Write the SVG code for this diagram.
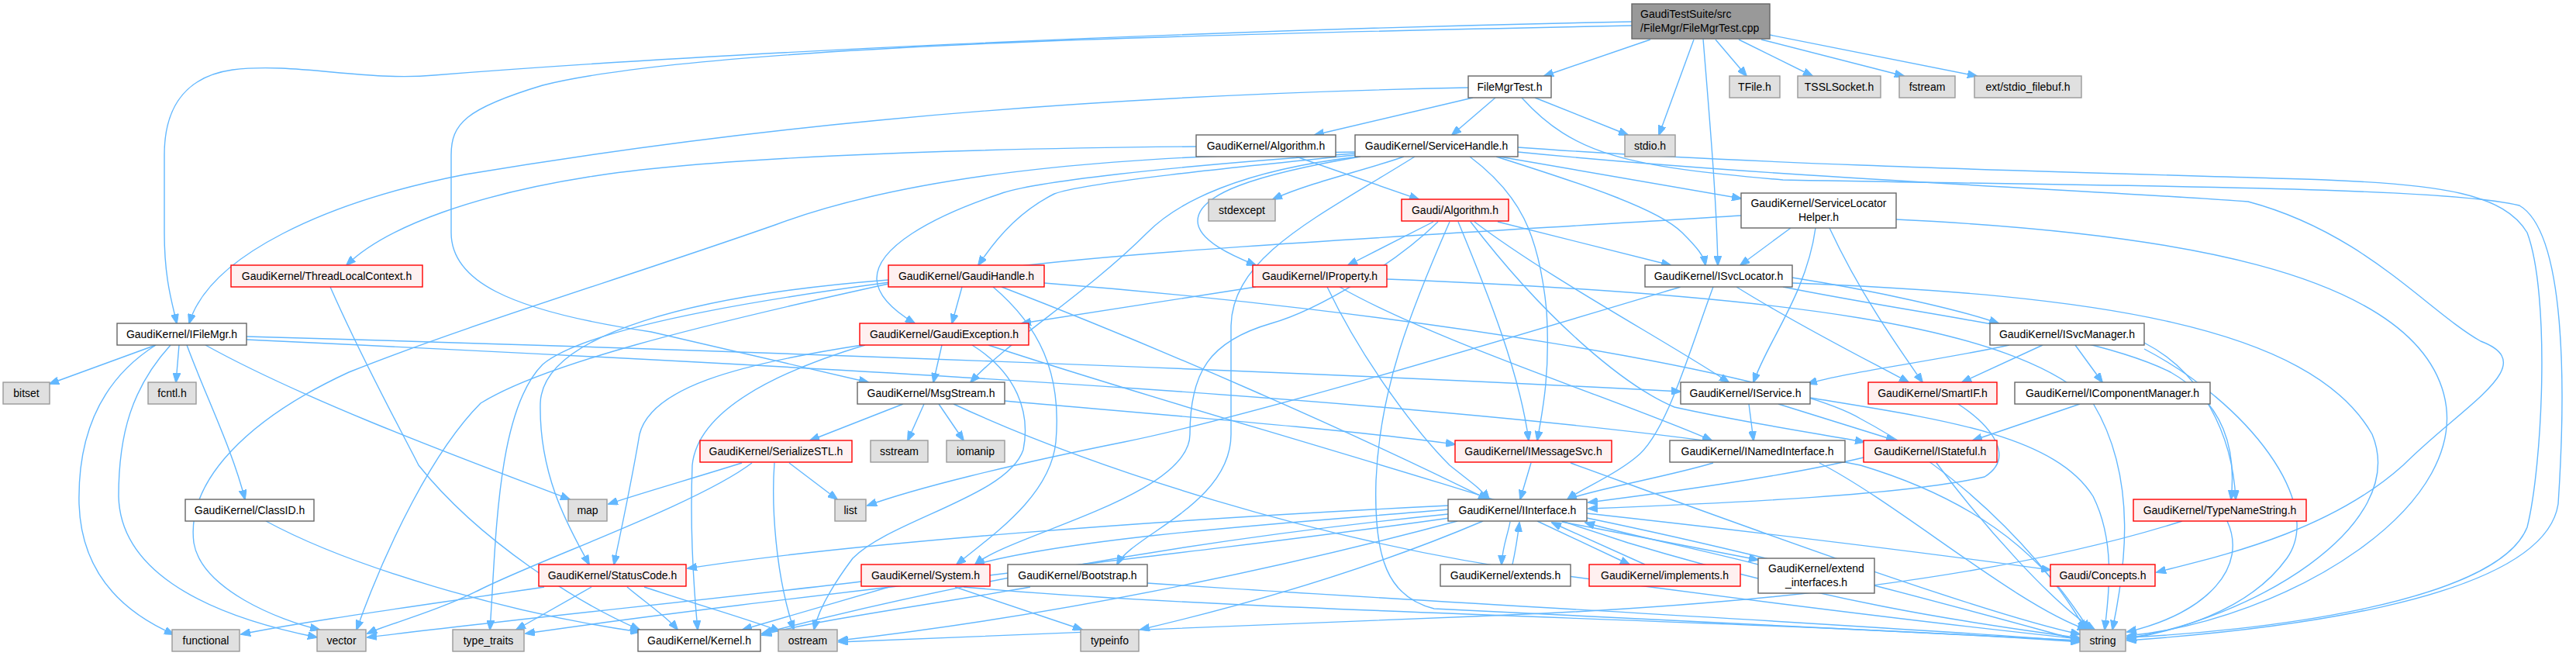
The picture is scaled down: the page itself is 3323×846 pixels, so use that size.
<svg xmlns="http://www.w3.org/2000/svg" width="3323" height="846" viewBox="0 0 3323 846">
<style>
.n{fill:#ffffff;stroke:#666666;stroke-width:1.4}
.r{fill:#fff0f0;stroke:#ff0000;stroke-width:1.4}
.g{fill:#e0e0e0;stroke:#999999;stroke-width:1.4}
.m{fill:#999999;stroke:#666666;stroke-width:1.4}
text{font-family:"Liberation Sans",Arial,sans-serif;font-size:14px;fill:#000000;text-anchor:middle}
text.l{text-anchor:start}
#edges path{fill:none;stroke:#63b8ff;stroke-width:1.4;marker-end:url(#a)}
</style>
<defs>
<marker id="a" markerWidth="13" markerHeight="10" refX="12" refY="5" orient="auto" markerUnits="userSpaceOnUse">
<path d="M0,0 L13,5 L0,10 z" fill="#63b8ff" stroke="#63b8ff" stroke-width="1"/>
</marker>
</defs>
<rect width="3323" height="846" fill="#ffffff"/>
<g id="edges">
<!-- main -->
<path d="M2129,51 L1992,98"/>
<path d="M2105,28 C1500,40 900,70 560,97 C470,105 380,80 300,90 C230,100 212,150 212,200 L212,300 C212,360 222,390 228,417"/>
<path d="M2105,33 C1500,45 900,60 700,110 C600,140 582,160 582,200 L582,300 C582,360 650,400 840,428 L1120,493"/>
<path d="M2197,50 C2205,150 2214,250 2216,342"/>
<path d="M2185,51 L2140,174"/>
<path d="M2213,51 L2253,98"/>
<path d="M2243,51 L2338,98"/>
<path d="M2272,51 L2456,98"/>
<path d="M2283,45 L2550,98"/>
<!-- FileMgrTest.h -->
<path d="M1900,126 L1696,174"/>
<path d="M1929,126 L1873,174"/>
<path d="M1980,126 L2100,174"/>
<path d="M1894,113 C1300,125 900,175 600,225 C420,260 270,330 244,417"/>
<path d="M1963,126 C2030,200 2100,215 2300,232 C2700,240 3150,240 3250,265 C3310,300 3310,500 3300,650 C3280,780 2900,815 2744,826"/>
<!-- GaudiKernel/Algorithm.h -->
<path d="M1672,202 L1830,257"/>
<path d="M1543,189 C1200,192 900,205 760,228 C620,250 500,290 447,342"/>
<!-- ServiceHandle.h -->
<path d="M1811,202 C1760,220 1690,235 1642,257"/>
<path d="M1748,200 C1600,215 1400,235 1360,250 C1320,270 1290,300 1262,342"/>
<path d="M1748,198 C1500,215 1330,235 1290,250 C1200,280 1130,320 1131,360 C1132,385 1160,405 1180,417"/>
<path d="M1752,202 C1600,220 1520,260 1480,300 C1400,380 1300,440 1252,493"/>
<path d="M1755,202 C1620,225 1545,250 1545,285 C1545,310 1590,330 1620,342"/>
<path d="M1896,202 C1960,250 1985,300 1995,400 C2000,480 1990,530 1983,568"/>
<path d="M1930,202 C2050,240 2140,270 2170,300 C2190,320 2198,330 2200,342"/>
<path d="M1934,202 L2246,256"/>
<path d="M1825,202 C1700,280 1590,330 1588,420 L1588,560 C1588,650 1460,690 1441,728"/>
<path d="M1748,196 C1500,200 1200,215 1000,290 C800,360 600,420 450,480 C320,540 240,620 250,700 C260,760 360,800 412,812"/>
<path d="M1958,190 C2300,215 2800,225 3000,232 C3150,238 3230,250 3260,300 C3290,380 3280,600 3260,680 C3220,780 2900,815 2744,822"/>
<path d="M1958,196 C2300,230 2700,245 2900,260 C3050,300 3130,400 3200,440 C3280,470 3180,520 3100,600 C3000,690 2850,720 2782,738"/>
<!-- Gaudi/Algorithm.h -->
<path d="M1849,286 L1739,342"/>
<path d="M1932,286 L2155,342"/>
<path d="M1881,286 C1920,380 1960,480 1972,568"/>
<path d="M1902,286 C2000,360 2150,440 2230,493"/>
<path d="M1897,286 C2000,420 2100,500 2160,525 C2250,545 2350,560 2405,570"/>
<path d="M1870,286 C1820,400 1780,500 1775,620 C1772,720 1790,770 1850,785 C2200,800 2500,815 2683,826"/>
<path d="M1855,286 C1800,340 1700,400 1640,417 C1560,440 1535,480 1535,560 C1535,640 1300,690 1258,728"/>
<!-- ServiceLocatorHelper -->
<path d="M2310,294 L2245,342"/>
<path d="M2342,294 C2330,380 2280,440 2262,493"/>
<path d="M2360,294 C2400,380 2450,450 2480,493"/>
<path d="M2446,283 C2800,300 3100,350 3150,500 C3200,650 2950,800 2744,820"/>
<path d="M2246,278 C1900,300 1500,320 1300,345 C1000,380 760,420 700,470 C640,530 640,700 632,812"/>
<!-- ThreadLocalContext -->
<path d="M426,370 C470,470 520,560 540,600 C620,700 750,780 825,812"/>
<!-- GaudiHandle -->
<path d="M1241,370 L1228,417"/>
<path d="M1281,370 C1340,420 1370,480 1362,570 C1355,640 1280,690 1234,728"/>
<path d="M1292,370 C1500,450 1750,560 1919,644"/>
<path d="M1347,365 C1800,400 2300,480 2400,540 C2550,620 2650,740 2690,812"/>
<path d="M1146,361 C900,380 700,430 697,520 C695,620 740,690 760,728"/>
<path d="M1146,366 C900,420 700,470 620,520 C560,580 500,700 460,812"/>
<!-- IProperty -->
<path d="M1620,370 L1318,417"/>
<path d="M1712,370 C1760,470 1830,560 1870,600 C1895,620 1910,630 1921,644"/>
<path d="M1728,370 C1850,440 2100,520 2208,568"/>
<path d="M1789,360 C2300,380 2600,420 2700,520 C2760,620 2740,740 2725,812"/>
<!-- ISvcLocator -->
<path d="M2210,370 C2180,450 2150,560 2110,590 C2080,615 2040,630 2022,644"/>
<path d="M2168,370 C1900,450 1600,540 1450,570 C1300,600 1180,630 1119,652"/>
<path d="M2240,370 C2320,420 2420,470 2462,493"/>
<path d="M2312,358 C2420,375 2530,400 2578,417"/>
<path d="M2300,370 C2500,410 2700,430 2800,480 C2870,520 2885,580 2878,644"/>
<path d="M2312,365 C2700,380 2980,420 3060,560 C3110,680 2900,800 2744,823"/>
<!-- IFileMgr -->
<path d="M201,445 L64,495"/>
<path d="M201,445 C130,490 100,560 102,650 C105,740 160,790 224,818"/>
<path d="M220,445 C170,500 153,560 153,640 C155,730 250,790 409,822"/>
<path d="M231,445 L227,493"/>
<path d="M241,445 C265,510 300,580 316,644"/>
<path d="M265,445 C400,520 620,600 735,644"/>
<path d="M318,434 C900,450 1700,480 2168,505"/>
<path d="M318,438 C1000,470 2000,520 2400,600 C2600,660 2660,760 2695,812"/>
<!-- GaudiException -->
<path d="M1215,445 L1204,493"/>
<path d="M1112,445 C950,470 840,500 825,560 C815,620 800,690 792,728"/>
<path d="M1116,445 C1000,480 900,530 893,600 C890,680 895,760 900,812"/>
<path d="M1254,445 C1310,480 1330,530 1320,580 C1300,640 1150,670 1100,720 C1070,760 1055,790 1050,812"/>
<path d="M1275,445 C1500,520 1800,600 2100,700 C2400,790 2600,810 2683,823"/>
<!-- ISvcManager -->
<path d="M2592,445 C2500,465 2380,480 2332,495"/>
<path d="M2635,445 L2531,493"/>
<path d="M2677,445 L2712,493"/>
<path d="M2766,442 C2840,480 2880,560 2884,644"/>
<path d="M2766,450 C2900,520 3000,650 2950,720 C2900,790 2800,815 2744,824"/>
<!-- MsgStream -->
<path d="M1165,521 L1045,568"/>
<path d="M1192,521 L1171,568"/>
<path d="M1211,521 L1243,568"/>
<path d="M1296,517 C1500,535 1750,555 1877,573"/>
<path d="M1230,521 C1400,600 1700,700 2000,740 C2300,780 2550,810 2683,824"/>
<!-- IService -->
<path d="M2256,521 L2262,568"/>
<path d="M2294,521 L2445,568"/>
<path d="M2335,513 C2500,540 2650,560 2700,640 C2730,700 2720,770 2715,812"/>
<!-- SmartIF -->
<path d="M2526,521 C2570,550 2600,590 2560,615 C2450,640 2200,650 2049,656"/>
<!-- IComponentManager -->
<path d="M2683,521 L2545,568"/>
<!-- SerializeSTL -->
<path d="M957,597 C900,615 830,635 785,650"/>
<path d="M970,597 C900,650 700,720 620,760 C560,790 500,805 474,817"/>
<path d="M1018,597 L1080,644"/>
<path d="M999,597 C995,650 1000,740 1024,812"/>
<!-- IMessageSvc -->
<path d="M1975,597 L1961,644"/>
<path d="M2026,597 C2200,660 2550,790 2683,818"/>
<!-- INamedInterface -->
<path d="M2210,597 C2150,615 2060,630 2022,644"/>
<path d="M2347,597 C2450,650 2600,780 2692,812"/>
<!-- IStateful -->
<path d="M2404,590 C2300,615 2150,635 2049,648"/>
<path d="M2498,597 C2560,680 2650,780 2702,812"/>
<!-- ClassID -->
<path d="M343,672 C450,730 650,790 825,815"/>
<!-- IInterface -->
<path d="M1868,652 C1500,670 1100,700 887,733"/>
<path d="M1868,657 C1700,672 1400,690 1258,728"/>
<path d="M1868,663 C1500,700 1200,760 983,817"/>
<path d="M1870,668 C1500,720 1000,770 678,817"/>
<path d="M1880,672 C1700,720 1400,790 1082,826"/>
<path d="M1913,672 C1800,720 1650,770 1471,812"/>
<path d="M2047,668 C2300,720 2550,790 2683,826"/>
<path d="M2047,662 C2300,690 2500,715 2645,735"/>
<path d="M1948,673 C1945,690 1938,705 1937,728"/>
<path d="M1983,672 L2102,728"/>
<path d="M2015,673 L2268,722"/>
<!-- back edges to IInterface -->
<path d="M1951,728 C1955,710 1958,690 1960,674"/>
<path d="M2122,728 L2002,674"/>
<path d="M2268,728 C2200,710 2100,690 2045,674"/>
<!-- TypeNameString -->
<path d="M2873,672 C2900,730 2850,790 2744,815"/>
<path d="M2815,672 C2600,740 2300,780 1900,795 C1500,810 1200,822 1082,828"/>
<!-- StatusCode -->
<path d="M702,757 C550,780 400,800 311,818"/>
<path d="M763,757 L666,812"/>
<path d="M809,757 C830,775 860,795 874,812"/>
<path d="M831,757 C900,780 970,800 1006,814"/>
<!-- System -->
<path d="M1111,750 C900,775 650,800 474,822"/>
<path d="M1147,757 L958,812"/>
<path d="M1232,757 L1396,812"/>
<path d="M1243,757 C1600,790 2300,800 2683,828"/>
<!-- Bootstrap -->
<path d="M1329,757 C1200,780 1050,800 983,819"/>
<path d="M1480,752 C1900,780 2400,805 2683,827"/>
</g>
<g id="n_main"><rect class="m" x="2105" y="5" width="178" height="45"/><text class="l" x="2116" y="23">GaudiTestSuite/src</text><text class="l" x="2116" y="41">/FileMgr/FileMgrTest.cpp</text></g>
<g id="n_fmh"><rect class="n" x="1894" y="98" width="107" height="28"/><text x="1947.5" y="117">FileMgrTest.h</text></g>
<g id="n_tfile"><rect class="g" x="2231" y="98" width="65" height="28"/><text x="2263.5" y="117">TFile.h</text></g>
<g id="n_tssl"><rect class="g" x="2319" y="98" width="107" height="28"/><text x="2372.5" y="117">TSSLSocket.h</text></g>
<g id="n_fstream"><rect class="g" x="2450" y="98" width="72" height="28"/><text x="2486" y="117">fstream</text></g>
<g id="n_stdiofb"><rect class="g" x="2547" y="98" width="138" height="28"/><text x="2616" y="117">ext/stdio_filebuf.h</text></g>
<g id="n_gkalg"><rect class="n" x="1543" y="174" width="180" height="28"/><text x="1633" y="193">GaudiKernel/Algorithm.h</text></g>
<g id="n_svch"><rect class="n" x="1748" y="174" width="210" height="28"/><text x="1853" y="193">GaudiKernel/ServiceHandle.h</text></g>
<g id="n_stdio"><rect class="g" x="2096" y="174" width="65" height="28"/><text x="2128.5" y="193">stdio.h</text></g>
<g id="n_stdexcept"><rect class="g" x="1559" y="257" width="86" height="28"/><text x="1602" y="276">stdexcept</text></g>
<g id="n_galg"><rect class="r" x="1808" y="257" width="138" height="28"/><text x="1877" y="276">Gaudi/Algorithm.h</text></g>
<g id="n_slh"><rect class="n" x="2246" y="249" width="200" height="45"/><text x="2346" y="267">GaudiKernel/ServiceLocator</text><text x="2346" y="285">Helper.h</text></g>
<g id="n_tlc"><rect class="r" x="298" y="342" width="247" height="28"/><text x="421.5" y="361">GaudiKernel/ThreadLocalContext.h</text></g>
<g id="n_gh"><rect class="r" x="1146" y="342" width="201" height="28"/><text x="1246.5" y="361">GaudiKernel/GaudiHandle.h</text></g>
<g id="n_iprop"><rect class="r" x="1616" y="342" width="173" height="28"/><text x="1702.5" y="361">GaudiKernel/IProperty.h</text></g>
<g id="n_isvcloc"><rect class="n" x="2122" y="342" width="190" height="28"/><text x="2217" y="361">GaudiKernel/ISvcLocator.h</text></g>
<g id="n_ifm"><rect class="n" x="151" y="417" width="167" height="28"/><text x="234.5" y="436">GaudiKernel/IFileMgr.h</text></g>
<g id="n_gexc"><rect class="r" x="1109" y="417" width="218" height="28"/><text x="1218" y="436">GaudiKernel/GaudiException.h</text></g>
<g id="n_isvcmgr"><rect class="n" x="2567" y="417" width="199" height="28"/><text x="2666.5" y="436">GaudiKernel/ISvcManager.h</text></g>
<g id="n_bitset"><rect class="g" x="4" y="493" width="60" height="28"/><text x="34" y="512">bitset</text></g>
<g id="n_fcntl"><rect class="g" x="191" y="493" width="62" height="28"/><text x="222" y="512">fcntl.h</text></g>
<g id="n_msg"><rect class="n" x="1106" y="493" width="190" height="28"/><text x="1201" y="512">GaudiKernel/MsgStream.h</text></g>
<g id="n_isvc"><rect class="n" x="2168" y="493" width="167" height="28"/><text x="2251.5" y="512">GaudiKernel/IService.h</text></g>
<g id="n_smartif"><rect class="r" x="2410" y="493" width="166" height="28"/><text x="2493" y="512">GaudiKernel/SmartIF.h</text></g>
<g id="n_icm"><rect class="n" x="2599" y="493" width="252" height="28"/><text x="2725" y="512">GaudiKernel/IComponentManager.h</text></g>
<g id="n_ser"><rect class="r" x="903" y="568" width="196" height="28"/><text x="1001" y="587">GaudiKernel/SerializeSTL.h</text></g>
<g id="n_sstream"><rect class="g" x="1123" y="568" width="74" height="28"/><text x="1160" y="587">sstream</text></g>
<g id="n_iomanip"><rect class="g" x="1221" y="568" width="75" height="28"/><text x="1258.5" y="587">iomanip</text></g>
<g id="n_imsg"><rect class="r" x="1877" y="568" width="202" height="28"/><text x="1978" y="587">GaudiKernel/IMessageSvc.h</text></g>
<g id="n_inamed"><rect class="n" x="2154" y="568" width="226" height="28"/><text x="2267" y="587">GaudiKernel/INamedInterface.h</text></g>
<g id="n_istate"><rect class="r" x="2404" y="568" width="172" height="28"/><text x="2490" y="587">GaudiKernel/IStateful.h</text></g>
<g id="n_classid"><rect class="n" x="239" y="644" width="166" height="28"/><text x="322" y="663">GaudiKernel/ClassID.h</text></g>
<g id="n_map"><rect class="g" x="733" y="644" width="50" height="28"/><text x="758" y="663">map</text></g>
<g id="n_list"><rect class="g" x="1077" y="644" width="40" height="28"/><text x="1097" y="663">list</text></g>
<g id="n_iif"><rect class="n" x="1868" y="644" width="179" height="28"/><text x="1957.5" y="663">GaudiKernel/IInterface.h</text></g>
<g id="n_tns"><rect class="r" x="2752" y="644" width="223" height="28"/><text x="2863.5" y="663">GaudiKernel/TypeNameString.h</text></g>
<g id="n_sc"><rect class="r" x="695" y="728" width="190" height="28"/><text x="790" y="747">GaudiKernel/StatusCode.h</text></g>
<g id="n_sys"><rect class="r" x="1111" y="728" width="166" height="28"/><text x="1194" y="747">GaudiKernel/System.h</text></g>
<g id="n_boot"><rect class="n" x="1300" y="728" width="180" height="28"/><text x="1390" y="747">GaudiKernel/Bootstrap.h</text></g>
<g id="n_ext"><rect class="n" x="1858" y="728" width="168" height="28"/><text x="1942" y="747">GaudiKernel/extends.h</text></g>
<g id="n_impl"><rect class="r" x="2050" y="728" width="195" height="28"/><text x="2147.5" y="747">GaudiKernel/implements.h</text></g>
<g id="n_extif"><rect class="n" x="2268" y="720" width="150" height="45"/><text x="2343" y="738">GaudiKernel/extend</text><text x="2343" y="756">_interfaces.h</text></g>
<g id="n_concepts"><rect class="r" x="2645" y="728" width="135" height="28"/><text x="2712.5" y="747">Gaudi/Concepts.h</text></g>
<g id="n_functional"><rect class="g" x="222" y="812" width="87" height="28"/><text x="265.5" y="831">functional</text></g>
<g id="n_vector"><rect class="g" x="409" y="812" width="63" height="28"/><text x="440.5" y="831">vector</text></g>
<g id="n_tt"><rect class="g" x="584" y="812" width="92" height="28"/><text x="630" y="831">type_traits</text></g>
<g id="n_kernel"><rect class="n" x="823" y="812" width="158" height="28"/><text x="902" y="831">GaudiKernel/Kernel.h</text></g>
<g id="n_ostream"><rect class="g" x="1004" y="812" width="76" height="28"/><text x="1042" y="831">ostream</text></g>
<g id="n_typeinfo"><rect class="g" x="1394" y="812" width="75" height="28"/><text x="1431.5" y="831">typeinfo</text></g>
<g id="n_string"><rect class="g" x="2683" y="812" width="59" height="28"/><text x="2712.5" y="831">string</text></g>
</svg>
